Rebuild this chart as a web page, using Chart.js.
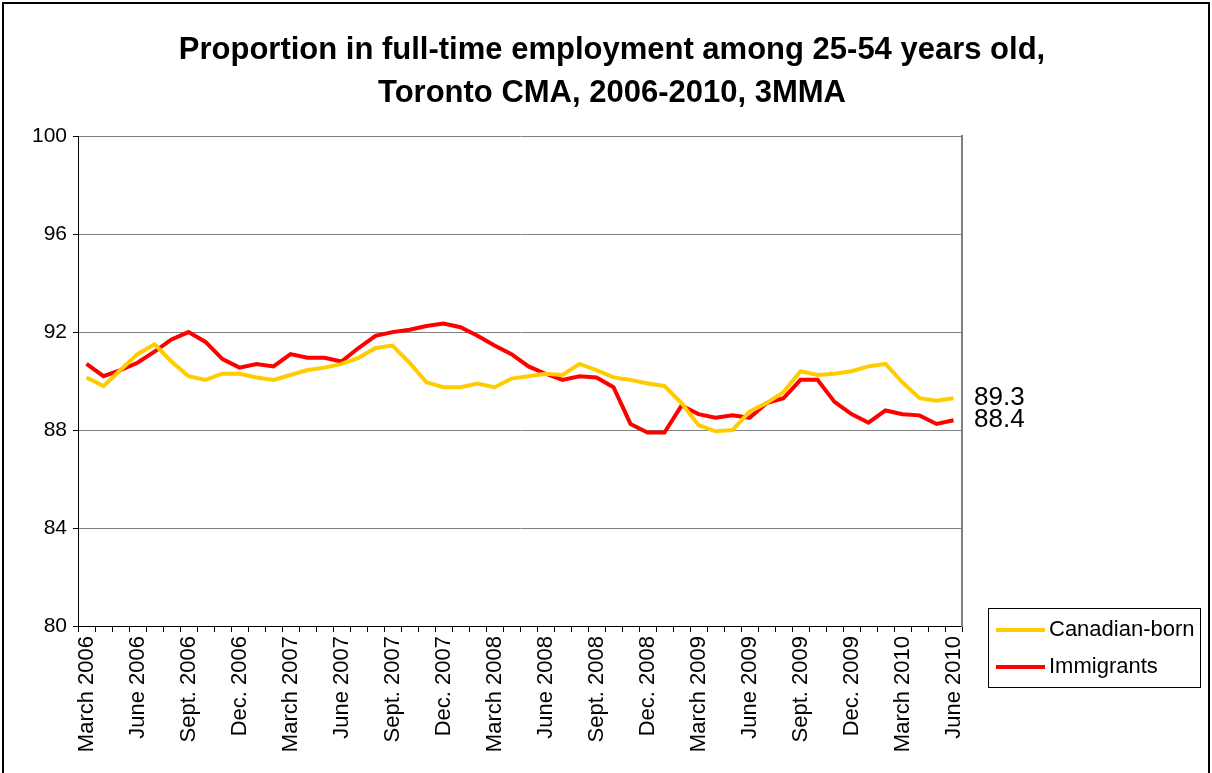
<!DOCTYPE html>
<html lang="en">
<head>
    <meta charset="UTF-8">
    <title>Proportion in full-time employment, Toronto CMA</title>
    <script src="https://cdn.jsdelivr.net/npm/chart.js"></script>
    <style>
        body { margin: 0; background: #fff; }
        #wrap { width: 1212px; height: 773px; position: relative; }
    </style>
</head>
<body>
    <div id="wrap"><canvas id="employmentChart" width="1212" height="773"></canvas></div>

    <script>
        const categories = [
            'March 2006', 'April 2006', 'May 2006', 'June 2006', 'July 2006', 'Aug. 2006',
            'Sept. 2006', 'Oct. 2006', 'Nov. 2006', 'Dec. 2006', 'Jan. 2007', 'Feb. 2007',
            'March 2007', 'April 2007', 'May 2007', 'June 2007', 'July 2007', 'Aug. 2007',
            'Sept. 2007', 'Oct. 2007', 'Nov. 2007', 'Dec. 2007', 'Jan. 2008', 'Feb. 2008',
            'March 2008', 'April 2008', 'May 2008', 'June 2008', 'July 2008', 'Aug. 2008',
            'Sept. 2008', 'Oct. 2008', 'Nov. 2008', 'Dec. 2008', 'Jan. 2009', 'Feb. 2009',
            'March 2009', 'April 2009', 'May 2009', 'June 2009', 'July 2009', 'Aug. 2009',
            'Sept. 2009', 'Oct. 2009', 'Nov. 2009', 'Dec. 2009', 'Jan. 2010', 'Feb. 2010',
            'March 2010', 'April 2010', 'May 2010', 'June 2010'
        ];

        // only every third month gets a label on the axis
        const tickLabels = [
            'March 2006', 'June 2006', 'Sept. 2006', 'Dec. 2006',
            'March 2007', 'June 2007', 'Sept. 2007', 'Dec. 2007',
            'March 2008', 'June 2008', 'Sept. 2008', 'Dec. 2008',
            'March 2009', 'June 2009', 'Sept. 2009', 'Dec. 2009',
            'March 2010', 'June 2010'
        ];

        const canadianBorn = [
            90.15, 89.8, 90.45, 91.1, 91.5, 90.8, 90.2, 90.05, 90.3, 90.3, 90.15, 90.05,
            90.25, 90.45, 90.55, 90.7, 90.95, 91.35, 91.45, 90.75, 89.95, 89.75, 89.75, 89.9,
            89.75, 90.1, 90.2, 90.3, 90.25, 90.7, 90.45, 90.15, 90.05, 89.9, 89.8, 89.1,
            88.2, 87.95, 88.0, 88.75, 89.1, 89.55, 90.4, 90.25, 90.3, 90.4, 90.6, 90.7,
            89.95, 89.3, 89.2, 89.3
        ];

        const immigrants = [
            90.7, 90.2, 90.45, 90.75, 91.2, 91.7, 92.0, 91.6, 90.9, 90.55, 90.7, 90.6,
            91.1, 90.95, 90.95, 90.8, 91.35, 91.85, 92.0, 92.1, 92.25, 92.35, 92.2, 91.85,
            91.45, 91.1, 90.6, 90.3, 90.05, 90.2, 90.15, 89.75, 88.25, 87.9, 87.9, 89.0,
            88.65, 88.5, 88.6, 88.5, 89.1, 89.3, 90.05, 90.05, 89.15, 88.65, 88.3, 88.8,
            88.65, 88.6, 88.25, 88.4
        ];

        const FONT = "'Liberation Sans', Arial, sans-serif";

        // outer frame, end-of-line values and the boxed legend
        const extras = {
            id: 'extras',
            afterDraw(chart) {
                const { ctx, chartArea, scales } = chart;
                ctx.save();
                ctx.strokeStyle = '#000';
                ctx.lineWidth = 2;
                ctx.strokeRect(3, 3, 1206, 800);

                // last value of each series next to the plot
                ctx.fillStyle = '#000';
                ctx.font = '26px ' + FONT;
                ctx.textBaseline = 'middle';
                ctx.textAlign = 'left';
                chart.data.datasets.forEach(ds => {
                    const last = ds.data[ds.data.length - 1];
                    ctx.fillText(last.toFixed(1), chartArea.right + 12, scales.y.getPixelForValue(last));
                });

                // legend box
                const lx = chartArea.right + 26, ly = chartArea.bottom - 18;
                ctx.lineWidth = 1;
                ctx.strokeRect(lx + 0.5, ly + 0.5, 212, 79);
                ctx.font = '22px ' + FONT;
                chart.data.datasets.forEach((ds, i) => {
                    const yy = ly + 22 + i * 37;
                    ctx.strokeStyle = ds.borderColor;
                    ctx.lineWidth = 4;
                    ctx.beginPath();
                    ctx.moveTo(lx + 8, yy);
                    ctx.lineTo(lx + 57, yy);
                    ctx.stroke();
                    ctx.fillStyle = '#000';
                    ctx.fillText(ds.label, lx + 61, yy);
                });
                ctx.restore();
            }
        };

        new Chart(document.getElementById('employmentChart'), {
            type: 'line',
            data: {
                labels: categories,
                datasets: [
                    { label: 'Canadian-born', data: canadianBorn, borderColor: '#FFCC00', borderWidth: 4, pointRadius: 0, tension: 0 },
                    { label: 'Immigrants', data: immigrants, borderColor: '#FF0000', borderWidth: 4, pointRadius: 0, tension: 0 }
                ]
            },
            options: {
                responsive: false,
                animation: false,
                layout: { padding: { left: 12, right: 0, top: 0, bottom: 0 } },
                plugins: {
                    legend: { display: false },
                    tooltip: { enabled: false },
                    title: {
                        display: true,
                        text: ['Proportion in full-time employment among 25-54 years old,', 'Toronto CMA, 2006-2010, 3MMA'],
                        color: '#000',
                        font: { family: FONT, size: 31, weight: 'bold', lineHeight: 1.39 },
                        padding: { top: 28.5, bottom: 21.5 }
                    }
                },
                scales: {
                    x: {
                        offset: true,
                        grid: { offset: true, drawOnChartArea: false, tickLength: 6, tickColor: '#000' },
                        border: { color: '#000', width: 1 },
                        ticks: {
                            autoSkip: false,
                            maxRotation: 90,
                            minRotation: 90,
                            padding: 4,
                            color: '#000',
                            font: { family: FONT, size: 22 },
                            callback: function (value) {
                                const lab = this.getLabelForValue(value);
                                return tickLabels.includes(lab) ? lab : '';
                            }
                        },
                        afterFit: s => { s.height = 147; }
                    },
                    y: {
                        min: 80,
                        max: 100,
                        ticks: { stepSize: 4, color: '#000', padding: 6, font: { family: FONT, size: 21 } },
                        grid: { color: '#808080', tickColor: '#000', tickLength: 5 },
                        border: { color: '#000', width: 1 },
                        afterFit: s => { s.width = 66; }
                    },
                    y2: {
                        position: 'right',
                        min: 80,
                        max: 100,
                        grid: { display: false },
                        ticks: { display: false },
                        border: { display: true, color: '#808080', width: 2 },
                        afterFit: s => { s.width = 250; }
                    }
                }
            },
            plugins: [extras]
        });
    </script>
</body>
</html>
